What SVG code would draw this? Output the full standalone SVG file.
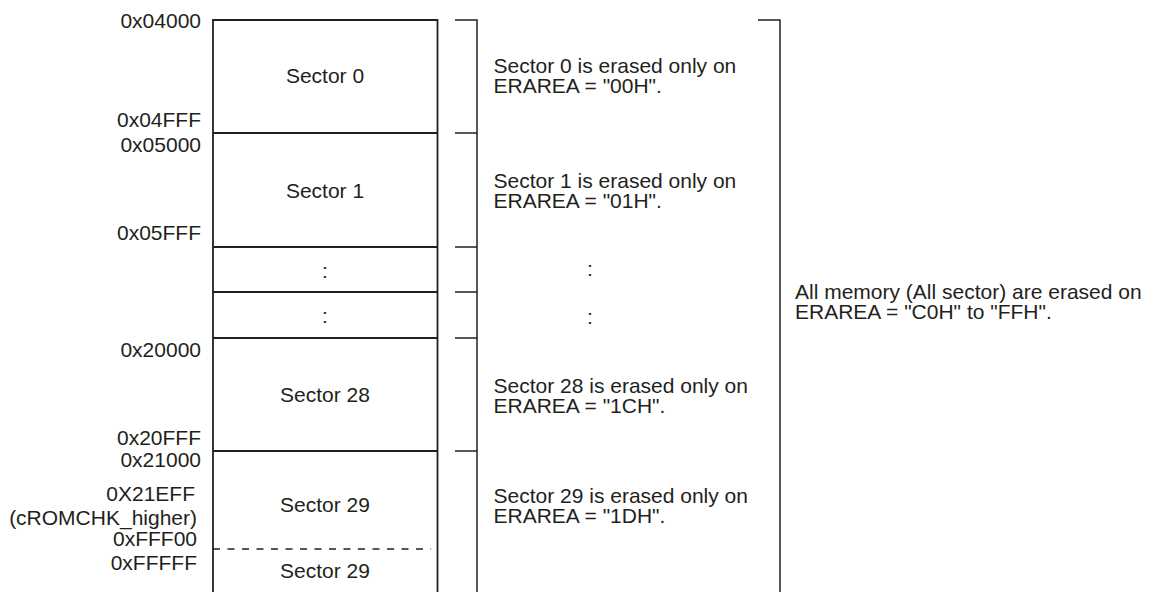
<svg xmlns="http://www.w3.org/2000/svg" width="1153" height="592" viewBox="0 0 1153 592">
<style>
.t{font-family:"Liberation Sans",Arial,sans-serif;font-size:21px;fill:#231f20}
.e{text-anchor:end}
.m{text-anchor:middle}
.box{fill:none;stroke:#231f20;stroke-width:1.8}
.br{fill:none;stroke:#231f20;stroke-width:1.5}
.dash{fill:none;stroke:#231f20;stroke-width:1.5;stroke-dasharray:7 7.5}
</style>
<rect width="1153" height="592" fill="#fff"/>
<g id="addresses">
<text class="t e" x="201" y="28">0x04000</text>
<text class="t e" x="201" y="127">0x04FFF</text>
<text class="t e" x="201" y="152">0x05000</text>
<text class="t e" x="201" y="240">0x05FFF</text>
<text class="t e" x="201" y="357">0x20000</text>
<text class="t e" x="201" y="445">0x20FFF</text>
<text class="t e" x="201" y="467">0x21000</text>
<text class="t e" x="195" y="501">0X21EFF</text>
<text class="t e" x="197" y="525">(cROMCHK_higher)</text>
<text class="t e" x="197" y="546">0xFFF00</text>
<text class="t e" x="197" y="570">0xFFFFF</text>
</g>
<g id="memory">
<path class="box" d="M213,592 V20 H437.5 V592"/>
<g id="sector0"><path class="box" d="M213,133 H437.5"/><text class="t m" x="325" y="83">Sector 0</text></g>
<g id="sector1"><path class="box" d="M213,247 H437.5"/><text class="t m" x="325" y="198">Sector 1</text></g>
<g id="gap1"><path class="box" d="M213,292 H437.5"/><text class="t m" x="325" y="278">:</text></g>
<g id="gap2"><path class="box" d="M213,338 H437.5"/><text class="t m" x="325" y="323">:</text></g>
<g id="sector28"><path class="box" d="M213,451 H437.5"/><text class="t m" x="325" y="402">Sector 28</text></g>
<g id="sector29"><text class="t m" x="325" y="512">Sector 29</text></g>
<g id="sector29b"><path class="dash" d="M213,549 H431"/><text class="t m" x="325" y="578">Sector 29</text></g>
</g>
<g id="connectors">
<path class="br" d="M455,20 H477 V592"/>
<path class="br" d="M455,133 H477"/>
<path class="br" d="M455,247 H477"/>
<path class="br" d="M455,292 H477"/>
<path class="br" d="M455,338 H477"/>
<path class="br" d="M455,451 H477"/>
<path class="br" d="M758,20 H780 V592"/>
</g>
<g id="desc0"><text class="t" x="493.5" y="73">Sector 0 is erased only on</text><text class="t" x="493.5" y="93">ERAREA = "00H".</text></g>
<g id="desc1"><text class="t" x="493.5" y="188">Sector 1 is erased only on</text><text class="t" x="493.5" y="208">ERAREA = "01H".</text></g>
<g id="descgap"><text class="t m" x="590" y="276">:</text><text class="t m" x="590" y="324">:</text></g>
<g id="desc28"><text class="t" x="493.5" y="393">Sector 28 is erased only on</text><text class="t" x="493.5" y="413">ERAREA = "1CH".</text></g>
<g id="desc29"><text class="t" x="493.5" y="503">Sector 29 is erased only on</text><text class="t" x="493.5" y="523">ERAREA = "1DH".</text></g>
<g id="descall"><text class="t" x="795" y="299">All memory (All sector) are erased on</text><text class="t" x="795" y="319">ERAREA = "C0H" to "FFH".</text></g>
</svg>
